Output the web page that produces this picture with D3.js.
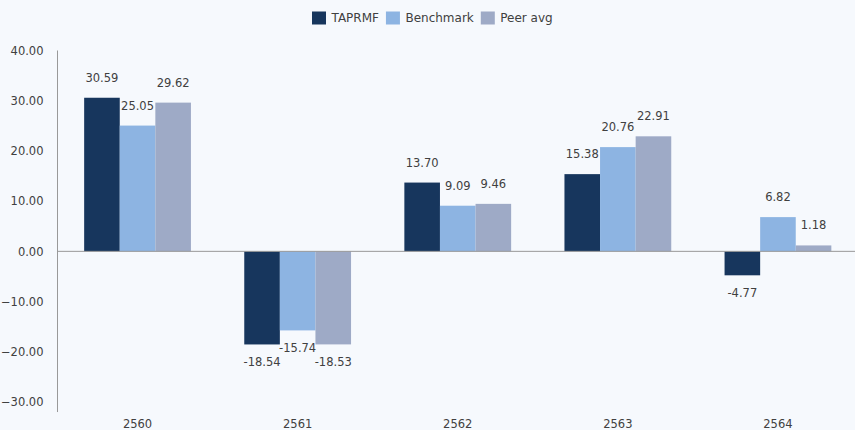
<!DOCTYPE html>
<html>
<head>
<meta charset="utf-8">
<script src="https://cdn.jsdelivr.net/npm/d3@7"></script>
<style>
  body { margin: 0; background: #f6f9fd; }
  text { font-family: "DejaVu Sans", sans-serif; fill: #404040; }
</style>
</head>
<body>
<svg id="chart"></svg>
<script>
// data
var years = ["2560", "2561", "2562", "2563", "2564"];
var seriesNames = ["TAPRMF", "Benchmark", "Peer avg"];
var taprmf = [30.59, -18.54, 13.70, 15.38, -4.77];
var benchmark = [25.05, -15.74, 9.09, 20.76, 6.82];
var peerAvg = [29.62, -18.53, 9.46, 22.91, 1.18];
var yTicks = [40, 30, 20, 10, 0, -10, -20, -30];
var colors = ["#17365d", "#8db4e2", "#9eaac6"];

var width = 855, height = 430;
var allSeries = [taprmf, benchmark, peerAvg];

var svg = d3.select("#chart")
    .attr("width", width)
    .attr("height", height);

svg.append("rect")
    .attr("width", width)
    .attr("height", height)
    .attr("fill", "#f6f9fd");

// scales
var x0 = d3.scaleBand()
    .domain(years)
    .range([57.5, 858])
    .paddingInner(0.333)
    .paddingOuter(0.1665);

var x1 = d3.scaleBand()
    .domain(seriesNames)
    .range([0, x0.bandwidth()]);

var y = d3.scaleLinear()
    .domain([-30, 40])
    .range([402, 50.5]);

// y axis: labels only + plain line
var yAxis = d3.axisLeft(y)
    .tickValues(yTicks)
    .tickFormat(d3.format(".2f"))
    .tickSize(0)
    .tickPadding(14);

var yAxisG = svg.append("g")
    .attr("transform", "translate(57.5,0)")
    .call(yAxis);
yAxisG.select(".domain").remove();
yAxisG.selectAll("text")
    .style("font-size", "11.5px")
    .style("font-family", "DejaVu Sans, sans-serif")
    .attr("fill", "#404040");

svg.append("line")
    .attr("x1", 57.5).attr("x2", 57.5)
    .attr("y1", y(40)).attr("y2", y(-32))
    .attr("stroke", "#999");

// bars
var rows = years.map(function(yr, i) {
    return seriesNames.map(function(s, j) {
        return {year: yr, name: s, value: allSeries[j][i], color: colors[j]};
    });
});

var groups = svg.selectAll(".grp")
    .data(rows)
    .join("g")
    .attr("class", "grp")
    .attr("transform", function(d, i) { return "translate(" + x0(years[i]) + ",0)"; });

groups.selectAll("rect")
    .data(function(d) { return d; })
    .join("rect")
    .attr("x", function(d) { return x1(d.name); })
    .attr("width", x1.bandwidth())
    .attr("y", function(d) { return y(Math.max(0, d.value)); })
    .attr("height", function(d) { return Math.abs(y(d.value) - y(0)); })
    .attr("fill", function(d) { return d.color; });

groups.selectAll("text.val")
    .data(function(d) { return d; })
    .join("text")
    .attr("class", "val")
    .attr("x", function(d) { return x1(d.name) + x1.bandwidth() / 2; })
    .attr("y", function(d) { return d.value >= 0 ? y(d.value) - 20 : y(d.value) + 18; })
    .attr("dy", "0.35em")
    .attr("text-anchor", "middle")
    .style("font-size", "11.5px")
    .text(function(d) { return d.value.toFixed(2); });

// zero line
svg.append("line")
    .attr("x1", 57.5).attr("x2", width)
    .attr("y1", y(0)).attr("y2", y(0))
    .attr("stroke", "#999");

// x labels
svg.selectAll(".xlab")
    .data(years)
    .join("text")
    .attr("class", "xlab")
    .attr("x", function(d) { return x0(d) + x0.bandwidth() / 2; })
    .attr("y", 424)
    .attr("dy", "0.35em")
    .attr("text-anchor", "middle")
    .style("font-size", "11.5px")
    .text(function(d) { return d; });

// legend
var legend = svg.append("g");
var lx = 312;
seriesNames.forEach(function(s, i) {
    legend.append("rect")
        .attr("x", lx).attr("y", 11.5)
        .attr("width", 14).attr("height", 13)
        .attr("fill", colors[i]);
    var t = legend.append("text")
        .attr("x", lx + 19.5)
        .attr("y", 18)
        .attr("dy", "0.35em")
        .style("font-size", "12px")
        .text(s);
    lx += 19.5 + t.node().getComputedTextLength() + 7;
});
</script>
</body>
</html>
